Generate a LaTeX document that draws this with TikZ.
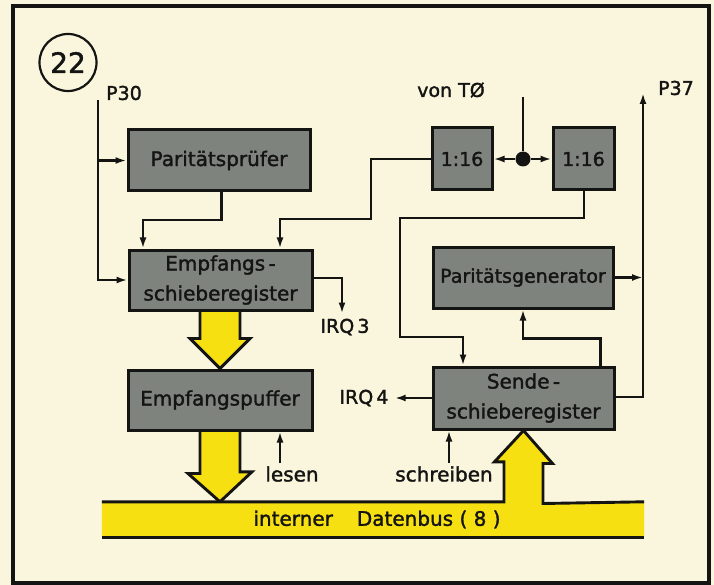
\documentclass[tikz,border=0pt]{standalone}
\usepackage{fontspec}
\setmainfont{DejaVu Sans}[FakeBold=1.6]
\usetikzlibrary{arrows.meta,calc}
\definecolor{paper}{RGB}{250,246,222}
\definecolor{boxgray}{RGB}{127,131,125}
\definecolor{busyellow}{RGB}{247,224,18}
\definecolor{ink}{RGB}{20,20,18}
\pgfdeclarelayer{paperlayer}
\pgfdeclarelayer{buslayer}
\pgfsetlayers{paperlayer,buslayer,main}

\begin{document}
\begin{tikzpicture}[x=1pt,y=-1pt,
  block/.style={draw=ink,fill=boxgray,line width=3pt,inner sep=0pt,align=center,
                font=\fontsize{20}{30}\selectfont,text=ink},
  conn/.style={draw=ink,line width=2.7pt,-{Latex[length=11pt,width=7pt]}},
  wire/.style={draw=ink,line width=2.7pt},
  lbl/.style={font=\fontsize{19}{22}\selectfont,text=ink,inner sep=1pt},
  bigtxt/.style={font=\fontsize{20}{22}\selectfont,text=ink,inner sep=1pt},
  busline/.style={draw=ink,line width=2.9pt,line join=miter}]

\useasboundingbox (0,0) rectangle (714,585);
\begin{pgfonlayer}{paperlayer}
  \fill[paper] (0,0) rectangle (714,585);
\end{pgfonlayer}

% outer frame
\draw[ink,line width=3.8pt] (13,6) rectangle (709,583);

% function blocks
\node[block,minimum width=182,minimum height=61] (pruef) at (219,160.5) {Paritätsprüfer};
\node[block,minimum width=183,minimum height=60] (empf) at (220.5,280) {Empfangs\,-\\schieberegister};
\node[block,minimum width=184,minimum height=60] (puffer) at (220,400) {Empfangspuffer};
\node[block,minimum width=60,minimum height=62,font=\fontsize{19}{20}\selectfont] (divL) at (462,159) {1:16};
\node[block,minimum width=61,minimum height=62,font=\fontsize{19}{20}\selectfont] (divR) at (583.5,159) {1:16};
\node[block,minimum width=180,minimum height=61,font=\fontsize{19}{22}\selectfont] (gen) at (523,277.5) {Paritätsgenerator};
\node[block,minimum width=181,minimum height=62] (sende) at (523.5,398) {Sende\,-\\schieberegister};

% internal data bus
\node[bigtxt,minimum width=542,minimum height=35,inner sep=0pt] (bus) at (373,519.5)
  {\hspace*{8pt}interner\hspace{1.2em}Datenbus ( 8 )};

% figure number and signal labels
\node[draw=ink,circle,line width=2.2pt,minimum size=57,inner sep=0pt,
      font=\fontsize{28}{30}\selectfont,text=ink] (num) at (68,62.5) {22};
\node[lbl] (p30) at (124,93) {P30};
\node[lbl] (vont) at (451,90) {von TØ};
\node[lbl] (p37) at (676,88) {P37};
\node[lbl] (irq3) at (345,327) {IRQ\,3};
\node[lbl] (irq4) at (364,398) {IRQ\,4};
\node[bigtxt] (lesen) at (292,474) {lesen};
\node[bigtxt] (schreiben) at (444,474) {schreiben};

\coordinate (p30src) at (98,100);
\coordinate (clk) at (523,97);
\coordinate (p37end) at (643,93);
\node[circle,fill=ink,minimum size=15,inner sep=0pt] (dot) at (523,159) {};

% wide yellow data paths
\begin{pgfonlayer}{buslayer}
  \path[fill=busyellow] ($(puffer.north)+(-20,-60)$) -- ++(0,30) -- ++(-10,0) -- (puffer.north)
        -- ++(30,-30) -- ++(-10,0) -- ++(0,-30) -- cycle;
  \path[busline] ($(puffer.north)+(-20,-60)$) -- ++(0,30) -- ++(-10,0) -- (puffer.north)
        -- ++(30,-30) -- ++(-10,0) -- ++(0,-30);
  \path[fill=busyellow] ($(puffer.south)+(-20,0)$) -- ++(0,42) -- ++(-12,0) -- (puffer.south |- bus.north)
        -- ++(32,-30) -- ++(-12,0) -- ++(0,-42) -- cycle;
  \path[busline] ($(puffer.south)+(-20,0)$) -- ++(0,42) -- ++(-12,0) -- (puffer.south |- bus.north)
        -- ++(32,-30) -- ++(-12,0) -- ++(0,-42);
  \path[fill=busyellow] (bus.north west) -- ($(sende.south |- bus.north)+(-19.5,0)$) -- ++(0,-40)
        -- ++(-9.5,0) -- (sende.south) -- ++(29,33) -- ++(-9.5,0) -- ++(0,40)
        -- (bus.north east) -- (bus.south east) -- (bus.south west) -- cycle;
  \path[busline] (bus.north west) -- ($(sende.south |- bus.north)+(-19.5,0)$) -- ++(0,-40)
        -- ++(-9.5,0) -- (sende.south) -- ++(29,33) -- ++(-9.5,0) -- ++(0,40)
        -- (bus.north east);
  \path[busline] (bus.south west) -- (bus.south east);
\end{pgfonlayer}

% receiver side
\draw[conn] (p30src) |- (empf.west);
\draw[conn] (p30src |- pruef.west) -- (pruef.west);
\draw[conn] ($(pruef.south)+(2.5,0)$) |- (143,220) -- ($(empf.north)+(-77.5,0)$);
\draw[conn] (divL.west) -| (371,219) -| ($(empf.north)+(59.5,0)$);
\draw[conn] ($(empf.east)+(0,-2)$) -| ($(irq3.north)+(-3,-4)$);
\coordinate (lesenfoot) at ($(lesen.north)+(-12,-2)$);
\draw[conn] (lesenfoot) -- (lesenfoot |- puffer.south);

% clock dividers
\draw[wire] (clk) -- (dot);
\draw[conn] (dot) -- (divL.east);
\draw[conn] (dot) -- (divR.west);

% transmitter side
\draw[conn] ($(divR.south)+(0.5,0)$) |- (400,218) |- (463,337) -- ($(sende.north)+(-60.5,0)$);
\draw[conn] ($(sende.north)+(77,0)$) |- ($(gen.south)+(0,29)$) -- (gen.south);
\draw[conn] (gen.east) -- (gen.east -| p37end);
\draw[conn] ($(sende.east)+(0,-1)$) -| (p37end);
\draw[conn] (sende.west) -- ($(irq4.east)+(5,0)$);
\coordinate (schrfoot) at ($(schreiben.north)+(5,-2)$);
\draw[conn] (schrfoot) -- (schrfoot |- sende.south);

\end{tikzpicture}
\end{document}
